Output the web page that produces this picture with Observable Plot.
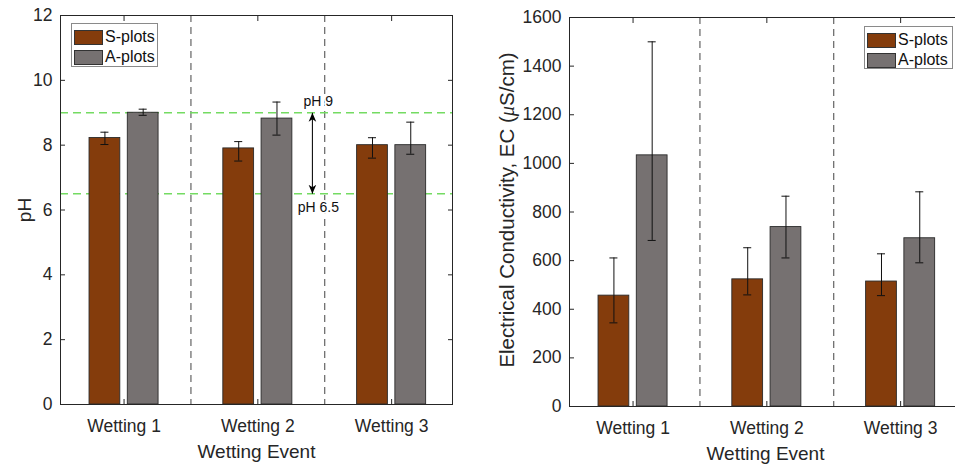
<!DOCTYPE html>
<html>
<head>
<meta charset="utf-8">
<script src="https://cdn.jsdelivr.net/npm/d3@7"></script>
<script src="https://cdn.jsdelivr.net/npm/@observablehq/plot@0.6"></script>
<style>
  html, body { margin: 0; padding: 0; background: #fff; }
  body { font-family: "Liberation Sans", Arial, sans-serif; }
  #wrap { position: relative; width: 955px; height: 464px; overflow: hidden; background: #fff; }
  .panel { position: absolute; top: 0; }
  .legend { position: absolute; background: #fff; border: 1px solid #8a8a8a; box-sizing: border-box;
            font-size: 16px; color: #111; padding: 3px 2px 0 2px; }
  .legend .row { display: flex; align-items: center; height: 20px; }
  .legend .sw { width: 29px; height: 15px; box-sizing: border-box; border: 1px solid #333; margin-right: 2px; }
</style>
</head>
<body>
<div id="wrap"></div>
<script>
// ---------------- data ----------------
const categories = ["Wetting 1", "Wetting 2", "Wetting 3"];
const series = ["S-plots", "A-plots"];
const seriesColors = ["#843c0c", "#767171"];

// pH (left panel)
const phS      = [8.22, 7.90, 8.00];
const phSLow   = [8.02, 7.51, 7.60];
const phSHigh  = [8.40, 8.11, 8.23];
const phA      = [9.00, 8.82, 8.00];
const phALow   = [8.92, 8.31, 7.72];
const phAHigh  = [9.11, 9.33, 8.71];
const phTicks  = [0, 2, 4, 6, 8, 10, 12];
const phLimits = [6.5, 9];
const phLimitLabels = ["pH 6.5", "pH 9"];

// EC (right panel)
const ecS      = [456, 523, 514];
const ecSLow   = [344, 459, 456];
const ecSHigh  = [611, 653, 628];
const ecA      = [1033, 738, 692];
const ecALow   = [683, 611, 591];
const ecAHigh  = [1500, 865, 883];
const ecTicks  = [0, 200, 400, 600, 800, 1000, 1200, 1400, 1600];

const xLabel = "Wetting Event";
const phLabel = "pH";
const ecLabel = "Electrical Conductivity, EC (μS/cm)";

// ---------------- helpers ----------------
const groupOffset = 0.143;   // half distance between grouped bars (category units)
const barHalf = 0.115;       // half bar width
const capHalf = 0.03;        // half error-bar cap width

function rows(sVals, sLow, sHigh, aVals, aLow, aHigh) {
  const out = [];
  categories.forEach((c, i) => {
    out.push({cat: c, pos: i + 1 - groupOffset, series: series[0], value: sVals[i], low: sLow[i], high: sHigh[i]});
    out.push({cat: c, pos: i + 1 + groupOffset, series: series[1], value: aVals[i], low: aLow[i], high: aHigh[i]});
  });
  return out;
}

function arrowHead(color) {
  const m = document.createElementNS("http://www.w3.org/2000/svg", "marker");
  m.setAttribute("viewBox", "-9 -5 10 10");
  m.setAttribute("markerWidth", "10");
  m.setAttribute("markerHeight", "10");
  m.setAttribute("markerUnits", "userSpaceOnUse");
  m.setAttribute("orient", "auto-start-reverse");
  m.setAttribute("refX", "0");
  m.setAttribute("refY", "0");
  const p = document.createElementNS("http://www.w3.org/2000/svg", "path");
  p.setAttribute("d", "M-9,-3.8L0,0L-9,3.8L-6.5,0Z");
  p.setAttribute("fill", "#000");
  p.setAttribute("stroke", "none");
  m.appendChild(p);
  return m;
}

function panel({data, yDomain, yTicks, yLabel, yLabelSize, width, marginLeft, marginRight, marginTop, marginBottom, yLabelDx, yLabelDy = 0, extra = []}) {
  const axisColor = "#262626";
  return Plot.plot({
    width, height: 464, marginLeft, marginRight, marginTop, marginBottom,
    style: {fontFamily: "'Liberation Sans', Arial, sans-serif", fontSize: "17px", color: axisColor, background: "transparent"},
    x: {type: "linear", domain: [0.525, 3.455], axis: null},
    y: {domain: yDomain, axis: null},
    color: {domain: series, range: seriesColors},
    marks: [
      Plot.ruleX([1.5, 2.5], {stroke: "#555", strokeWidth: 1.1, strokeDasharray: "7,5"}),
      ...extra,
      Plot.rectY(data, {x1: d => d.pos - barHalf, x2: d => d.pos + barHalf, y1: 0, y2: "value",
                        fill: "series", stroke: "#2a2a2a", strokeWidth: 0.9}),
      Plot.ruleX(data, {x: "pos", y1: "low", y2: "high", stroke: "#111", strokeWidth: 1}),
      Plot.ruleY(data, {y: "low", x1: d => d.pos - capHalf, x2: d => d.pos + capHalf, stroke: "#111", strokeWidth: 1}),
      Plot.ruleY(data, {y: "high", x1: d => d.pos - capHalf, x2: d => d.pos + capHalf, stroke: "#111", strokeWidth: 1}),
      Plot.frame({stroke: axisColor, strokeWidth: 1}),
      Plot.axisY({ticks: yTicks, anchor: "left", tickSize: -5, tickPadding: 13, tickFormat: d => String(d), fontSize: 17.5,
                  label: null, stroke: axisColor, fill: axisColor}),
      Plot.axisY({ticks: yTicks, anchor: "right", tickSize: -5, tickFormat: () => "", label: null, stroke: axisColor}),
      Plot.axisX({ticks: [1, 2, 3], anchor: "bottom", tickSize: -5, tickPadding: 20, tickFormat: d => categories[d - 1], fontSize: 17.5,
                  label: null, stroke: axisColor, fill: axisColor}),
      Plot.axisX({ticks: [1, 2, 3], anchor: "top", tickSize: -5, tickFormat: () => "", label: null, stroke: axisColor}),
      Plot.text([xLabel], {frameAnchor: "bottom", dy: 53, fontSize: 19, fill: axisColor}),
      Plot.text([yLabel], {frameAnchor: "left", textAnchor: "middle", lineAnchor: "middle", dx: yLabelDx, dy: yLabelDy, rotate: -90,
                           fontSize: yLabelSize, fill: axisColor})
    ]
  });
}

// ---------------- build ----------------
const wrap = document.getElementById("wrap");

const phRows = rows(phS, phSLow, phSHigh, phA, phALow, phAHigh);
const ecRows = rows(ecS, ecSLow, ecSHigh, ecA, ecALow, ecAHigh);

const arrowX = 2.408, labelX = 2.452;
const leftExtra = [
  Plot.ruleY(phLimits, {stroke: "#74db62", strokeWidth: 1.6, strokeDasharray: "8,5"}),
  Plot.link([phLimits], {x1: arrowX, x2: arrowX, y1: d => d[1], y2: d => d[0], stroke: "#111", strokeWidth: 1.1,
                         markerStart: arrowHead, markerEnd: arrowHead}),
  Plot.text([phLimitLabels[1]], {x: labelX, y: phLimits[1], dy: -11, fontSize: 14, fill: "#111",
                                 stroke: "white", strokeWidth: 4, paintOrder: "stroke"}),
  Plot.text([phLimitLabels[0]], {x: labelX, y: phLimits[0], dy: 14, fontSize: 14, fill: "#111",
                                 stroke: "white", strokeWidth: 4, paintOrder: "stroke"})
];

const left = panel({data: phRows, yDomain: [0, 12], yTicks: phTicks, yLabel: phLabel, yLabelSize: 19, width: 480,
                    marginLeft: 60, marginRight: 28, marginTop: 15, marginBottom: 60, yLabelDx: -36, extra: leftExtra});
left.classList.add("panel");
left.style.left = "0px";
wrap.appendChild(left);

const right = panel({data: ecRows, yDomain: [0, 1600], yTicks: ecTicks, yLabel: ecLabel, yLabelSize: 20.5, width: 500,
                     marginLeft: 89, marginRight: 19, marginTop: 17, marginBottom: 58, yLabelDx: -62, yLabelDy: -2});
right.classList.add("panel");
right.style.left = "480px";
wrap.appendChild(right);

// italic mu in the EC label
right.querySelectorAll("text").forEach(t => {
  if (t.textContent === ecLabel) {
    const parts = ecLabel.split("μ");
    t.textContent = "";
    const mk = (s, italic) => {
      const ts = document.createElementNS("http://www.w3.org/2000/svg", "tspan");
      ts.textContent = s;
      if (italic) { ts.setAttribute("font-style", "italic"); ts.setAttribute("font-family", "'Liberation Serif', serif"); }
      t.appendChild(ts);
    };
    mk(parts[0], false); mk("μ", true); mk(parts[1], false);
  }
});

// legends
function legend(x, y, w, h) {
  const div = document.createElement("div");
  div.className = "legend";
  Object.assign(div.style, {left: x + "px", top: y + "px", width: w + "px", height: h + "px"});
  series.forEach((s, i) => {
    const row = document.createElement("div");
    row.className = "row";
    const sw = document.createElement("div");
    sw.className = "sw";
    sw.style.background = seriesColors[i];
    const lab = document.createElement("span");
    lab.textContent = s;
    row.appendChild(sw); row.appendChild(lab);
    div.appendChild(row);
  });
  wrap.appendChild(div);
}
legend(71, 23, 87, 44);
legend(864, 26, 89, 43);
</script>
</body>
</html>
